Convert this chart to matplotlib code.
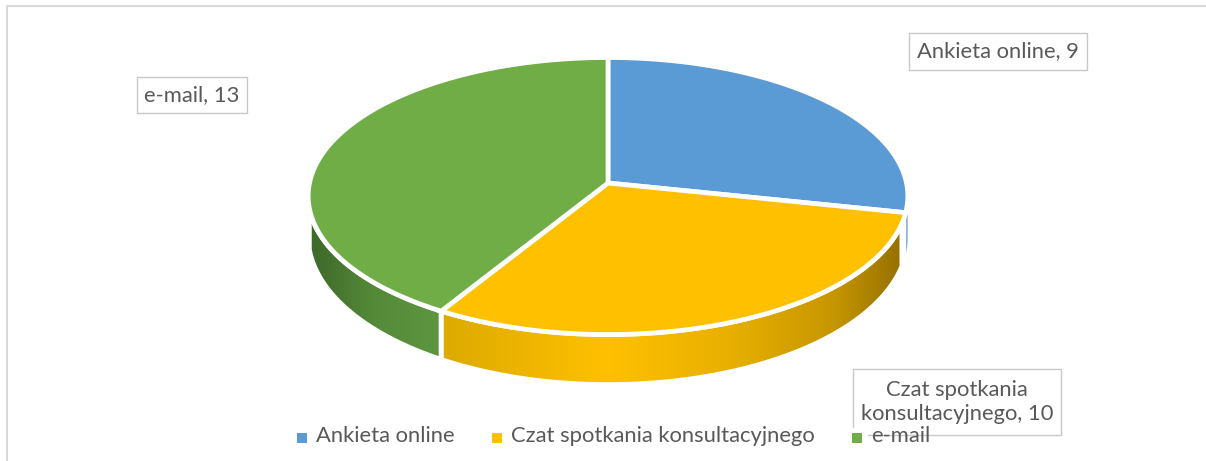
import numpy as np
import matplotlib
matplotlib.use("Agg")
import matplotlib.pyplot as plt
from matplotlib.colors import LinearSegmentedColormap
from matplotlib.patches import Polygon, Rectangle

categories = ["Ankieta online", "Czat spotkania konsultacyjnego", "e-mail"]
values = [9, 10, 13]
data_labels = ["Ankieta online, 9", "Czat spotkania\nkonsultacyjnego, 10", "e-mail, 13"]
colors = ["#5b9bd5", "#ffc000", "#70ad47"]

# side shading, left to right
side_stops = [
    [(0, "#8db6dc"), (1, "#8db6dc")],
    [(0, "#dcaa00"), (0.36, "#ffc000"), (0.62, "#e9b000"), (0.85, "#c79700"), (1, "#967000")],
    [(0, "#3d6829"), (0.5, "#558a39"), (1, "#5e9640")],
]

plt.rcParams["font.family"] = ["Lato", "DejaVu Sans"]

W, H = 1206, 461
CX, CY = 608, 183
RX, A, K = 298.5, 137.3, 0.094
TEXT = "#595959"

fig = plt.figure(figsize=(W / 100, H / 100), dpi=100)
ax = fig.add_axes([0, 0, 1, 1])


def warp(t):
    # excel's 3d pie does not keep the angles exactly
    t = np.asarray(t, dtype=float)
    return t + np.where(t > 180, 5.1, 1.0) * np.sin(np.radians(t))


def project(t):
    r = np.radians(warp(t))
    u, v = np.sin(r), np.cos(r)
    s = 1 + K * v
    return CX + RX * u / s, CY - A * v / s


def depth(t):
    return 40 + 10 * np.maximum(-np.cos(np.radians(t)), 0)


# rim of the chart area
ax.plot([7, 7, W], [H, 6, 6], color="#d9d9d9", lw=1.5, zorder=1)

edges = np.cumsum([0] + values) / sum(values) * 360
side_from, side_to = 95.4, 264.6
yellow_cut = 4.5  # yellow side stops short of the blue slice

for i in range(len(values)):
    t0, t1 = max(edges[i], side_from), min(edges[i + 1], side_to)
    if i == 1:
        t0 += yellow_cut
    t = np.linspace(t0, t1, 200)
    x, y = project(t)
    pts = np.r_[np.c_[x, y], np.c_[x, y + depth(t)][::-1]]
    cmap = LinearSegmentedColormap.from_list("side", side_stops[i])
    grad = np.linspace(0, 1, 256).reshape(1, -1)
    im = ax.imshow(grad, cmap=cmap, aspect="auto", zorder=2,
                   extent=(x.min(), x.max(), pts[:, 1].max(), pts[:, 1].min()))
    clip = Polygon(pts, closed=True, transform=ax.transData, fc="none", ec="none")
    ax.add_patch(clip)
    im.set_clip_path(clip)
    if i > 0:
        ax.add_patch(Polygon(pts, closed=True, fc="none", ec="white", lw=3.4, zorder=3))

for i in range(len(values)):
    t = np.linspace(edges[i], edges[i + 1], 200)
    x, y = project(t)
    pts = np.r_[[[CX, CY]], np.c_[x, y]]
    ax.add_patch(Polygon(pts, closed=True, fc=colors[i], ec="white", lw=3.4,
                         joinstyle="miter", zorder=4))

# data labels
label_boxes = [(909, 33, 178, 37), (853, 369, 208, 66), (137, 77, 110, 36)]
for (bx, by, bw, bh), lab in zip(label_boxes, data_labels):
    ax.add_patch(Rectangle((bx, by), bw, bh, fc="white", ec="#c8c8c8", lw=1.0, zorder=5))
    ax.text(bx + bw / 2, by + bh / 2, lab, ha="center", va="center", color=TEXT,
            fontsize=15.8, linespacing=1.28, zorder=6)

# legend sits over the label box
ax.add_patch(Rectangle((846, 428), 22, 14, fc="white", ec="none", zorder=7))
legend_x = [297, 492, 852]
for lx, name, c in zip(legend_x, categories, colors):
    ax.add_patch(Rectangle((lx, 433), 10, 10, fc=c, ec="none", zorder=8))
    ax.text(lx + 19, 436, name, ha="left", va="center", color=TEXT, fontsize=15.8, zorder=8)

ax.set_xlim(0, W)
ax.set_ylim(H, 0)
ax.axis("off")
fig.savefig("out.png", dpi=100, facecolor="white")
